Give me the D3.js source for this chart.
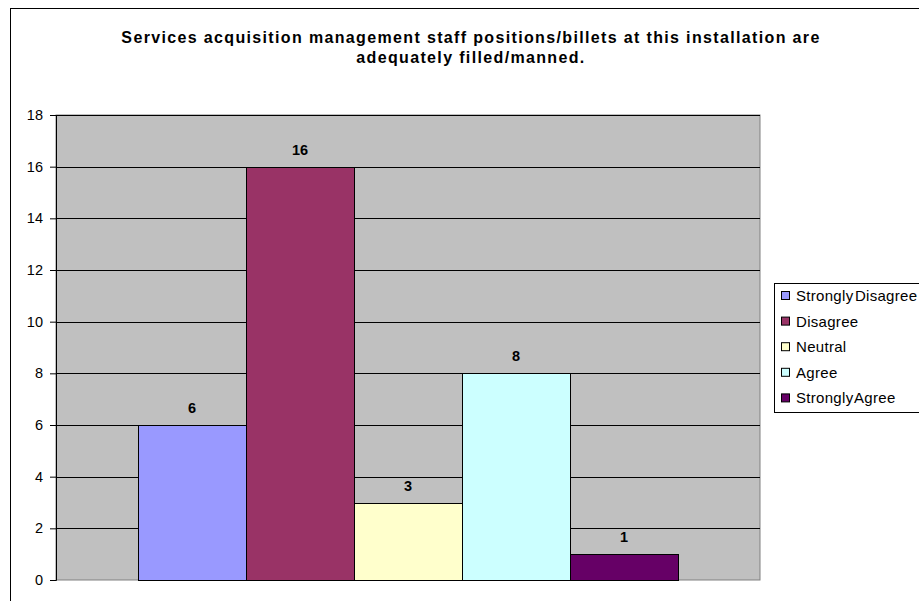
<!DOCTYPE html>
<html><head><meta charset="utf-8">
<script src="https://cdn.jsdelivr.net/npm/d3@7"></script>
<style>body{margin:0;background:#fff}svg{display:block}text{font-family:"Liberation Sans",Arial,sans-serif}</style>
</head><body>
<script>
const categories = ["Strongly Disagree","Disagree","Neutral","Agree","Strongly Agree"];
const values = [6,16,3,8,1];
const colors = ["#9999FF","#993366","#FFFFCC","#CCFFFF","#660066"];
const yTicks = [0,2,4,6,8,10,12,14,16,18];
const titleLines = ["Services acquisition management staff positions/billets at this installation are","adequately filled/manned."];

const W=919,H=601;
const svg=d3.select("body").append("svg").attr("width",W).attr("height",H);
svg.append("rect").attr("x",10.5).attr("y",8.5).attr("width",1000).attr("height",800).attr("fill","#fff").attr("stroke","#000");

const L=56,R=760,T=115,B=580;
const y=d3.scaleLinear().domain([0,18]).range([B,T]);
const x=d3.scaleBand().domain(categories).range([L+82,R-82]).paddingInner(0);

svg.append("rect").attr("x",L).attr("y",T).attr("width",R-L).attr("height",B-T).attr("fill","#C0C0C0").attr("stroke","#808080");
svg.append("g").selectAll("line").data(yTicks.filter(d=>d>0)).join("line")
 .attr("x1",L).attr("x2",R).attr("y1",d=>Math.round(y(d))+0.5).attr("y2",d=>Math.round(y(d))+0.5).attr("stroke","#000").attr("stroke-width",1);

const ax=svg.append("g").attr("transform",`translate(${L},0)`).call(d3.axisLeft(y).tickValues(yTicks).tickSize(6).tickPadding(7).tickFormat(d3.format("d")));
ax.select(".domain").attr("stroke","#000");
ax.selectAll(".tick line").attr("stroke","#000");
ax.selectAll("text").attr("font-size",14.5).attr("fill","#000").attr("font-family",'"Liberation Sans",Arial,sans-serif');

svg.append("g").selectAll("rect").data(categories).join("rect")
 .attr("x",d=>x(d)+0.5).attr("y",(d,i)=>Math.round(y(values[i]))+0.5).attr("width",x.bandwidth())
 .attr("height",(d,i)=>B-Math.round(y(values[i]))).attr("fill",(d,i)=>colors[i]).attr("stroke","#000");

svg.append("g").selectAll("text").data(categories).join("text")
 .attr("x",d=>x(d)+x.bandwidth()/2).attr("y",(d,i)=>y(values[i])-12).attr("text-anchor","middle")
 .attr("font-size",14.5).attr("font-weight","bold").text((d,i)=>values[i]);

svg.append("g").selectAll("text").data(titleLines).join("text")
 .attr("x",471).attr("y",(d,i)=>43+i*20).attr("text-anchor","middle").attr("font-size",16).attr("letter-spacing",1.35).attr("font-weight","bold").text(d=>d);

const lg=svg.append("g");
lg.append("rect").attr("x",774.5).attr("y",283.5).attr("width",160).attr("height",129).attr("fill","#fff").attr("stroke","#000");
const it=lg.selectAll("g").data(categories).join("g").attr("transform",(d,i)=>`translate(781,${296+i*25.6})`);
it.append("rect").attr("x",0.5).attr("y",-4.5).attr("width",8).attr("height",8).attr("fill",(d,i)=>colors[i]).attr("stroke","#000");
it.append("text").attr("x",15).attr("y",5).attr("font-size",15).attr("letter-spacing",0.3).attr("word-spacing",-3).text(d=>d);
</script>
</body></html>
